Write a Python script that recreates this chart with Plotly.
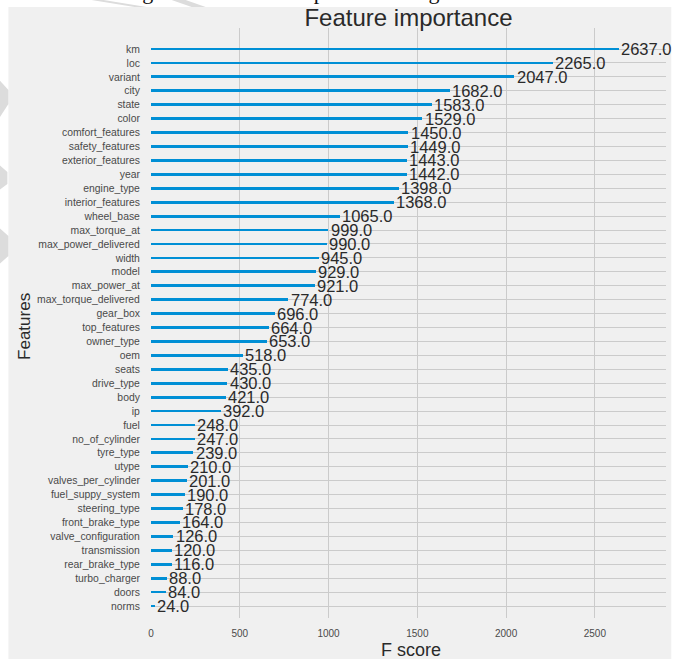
import plotly.graph_objects as go

# Feature importance (F score) from the xgboost model, listed from highest to lowest
features = [
    "km", "loc", "variant", "city", "state", "color", "comfort_features",
    "safety_features", "exterior_features", "year", "engine_type",
    "interior_features", "wheel_base", "max_torque_at", "max_power_delivered",
    "width", "model", "max_power_at", "max_torque_delivered", "gear_box",
    "top_features", "owner_type", "oem", "seats", "drive_type", "body", "ip",
    "fuel", "no_of_cylinder", "tyre_type", "utype", "valves_per_cylinder",
    "fuel_suppy_system", "steering_type", "front_brake_type",
    "valve_configuration", "transmission", "rear_brake_type", "turbo_charger",
    "doors", "norms",
]
scores = [
    2637, 2265, 2047, 1682, 1583, 1529, 1450, 1449, 1443, 1442, 1398, 1368,
    1065, 999, 990, 945, 929, 921, 774, 696, 664, 653, 518, 435, 430, 421,
    392, 248, 247, 239, 210, 201, 190, 178, 164, 126, 120, 116, 88, 84, 24,
]
x_ticks = [0, 500, 1000, 1500, 2000, 2500]

# lowest score at the bottom (y = 0), highest at the top
feat_bottom_up = features[::-1]
score_bottom_up = scores[::-1]
ypos = list(range(len(feat_bottom_up)))

BAR = "#008fd5"
BG = "#f0f0f0"
GRID = "#cbcbcb"
FONT = "Liberation Sans, Arial, sans-serif"
SERIF = "Liberation Serif, Times New Roman, serif"

W, H = 681, 659
ML, MR, MT, MB = 151.4, 15.3, 28, 41
PW, PH = W - ML - MR, H - MT - MB


def px(x):
    return (x - ML) / PW


def py(y):
    return (H - MB - y) / PH


fig = go.Figure()
fig.add_trace(go.Bar(
    x=score_bottom_up, y=ypos, orientation="h", width=0.2,
    marker=dict(color=BAR, line=dict(width=0)),
    hoverinfo="x+text", hovertext=feat_bottom_up,
))

annotations = []
for yi, v in zip(ypos, score_bottom_up):
    annotations.append(dict(
        x=v + 1, y=yi, xref="x", yref="y", text=f"{v:.1f}",
        showarrow=False, xanchor="left", yanchor="middle",
        font=dict(family=FONT, size=16.5, color="#2a2a2a"),
    ))

# axis titles
annotations.append(dict(
    x=px(24.5), y=py(326), xref="paper", yref="paper", text="Features",
    textangle=-90, showarrow=False, xanchor="center", yanchor="middle",
    font=dict(family=FONT, size=17, color="#2a2a2a"),
))
annotations.append(dict(
    x=px(411), y=py(650), xref="paper", yref="paper", text="F score",
    showarrow=False, xanchor="center", yanchor="middle",
    font=dict(family=FONT, size=18, color="#2a2a2a"),
))

# page caption running above the figure
annotations.append(dict(
    x=px(161), y=py(6.5), xref="paper", yref="paper", text="Fig.",
    showarrow=False, xanchor="right", yanchor="bottom",
    font=dict(family=SERIF, size=22, color="#111"),
))
annotations.append(dict(
    x=px(217), y=py(6.5), xref="paper", yref="paper",
    text="Feature importance in xgboost",
    showarrow=False, xanchor="left", yanchor="bottom",
    font=dict(family=SERIF, size=22, color="#111"),
))

# light hatched page marks along the left margin and top band
marks = [
    [(0, 80), (9, 90), (9, 104), (0, 118)],
    [(0, 165), (8, 172), (8, 184), (0, 190)],
    [(0, 228), (9, 236), (9, 256), (0, 264)],
    [(92, 0), (104, 0), (147, 7), (135, 7)],
    [(172, 0), (186, 0), (206, 7), (192, 7)],
]
shapes = [dict(
    type="rect", xref="paper", yref="paper", layer="below",
    x0=px(9), x1=px(671), y0=py(H), y1=py(7),
    fillcolor=BG, line=dict(width=0),
)]
for poly in marks:
    path = "M " + " L ".join(f"{px(a):.5f},{py(b):.5f}" for a, b in poly) + " Z"
    shapes.append(dict(
        type="path", path=path, xref="paper", yref="paper", layer="below",
        fillcolor="#dcdcdc", line=dict(width=0),
    ))

fig.update_layout(
    width=W, height=H,
    margin=dict(l=ML, r=MR, t=MT, b=MB, pad=0, autoexpand=False),
    paper_bgcolor="white", plot_bgcolor=BG,
    showlegend=False,
    bargap=0,
    title=dict(text="Feature importance", x=0.5, xref="paper", xanchor="center",
               y=1.0, yref="paper", yanchor="bottom", pad=dict(b=2),
               font=dict(family=FONT, size=24, color="#2a2a2a")),
    xaxis=dict(
        range=[0, 2900.7], tickvals=x_ticks, ticktext=[str(t) for t in x_ticks],
        showgrid=True, gridcolor=GRID, gridwidth=1, zeroline=False,
        showline=False, ticks="outside", ticklen=6, tickcolor="rgba(0,0,0,0)",
        tickfont=dict(family=FONT, size=10, color="#4a4a4a"),
        automargin=False,
    ),
    yaxis=dict(
        range=[-0.86, 41.51], tickvals=ypos, ticktext=feat_bottom_up,
        showgrid=True, gridcolor=GRID, gridwidth=1, zeroline=False,
        showline=False, ticks="outside", ticklen=8, tickcolor="rgba(0,0,0,0)",
        tickfont=dict(family=FONT, size=10.4, color="#4a4a4a"),
        automargin=False,
    ),
    annotations=annotations,
    shapes=shapes,
)

fig.write_html("out.html")
